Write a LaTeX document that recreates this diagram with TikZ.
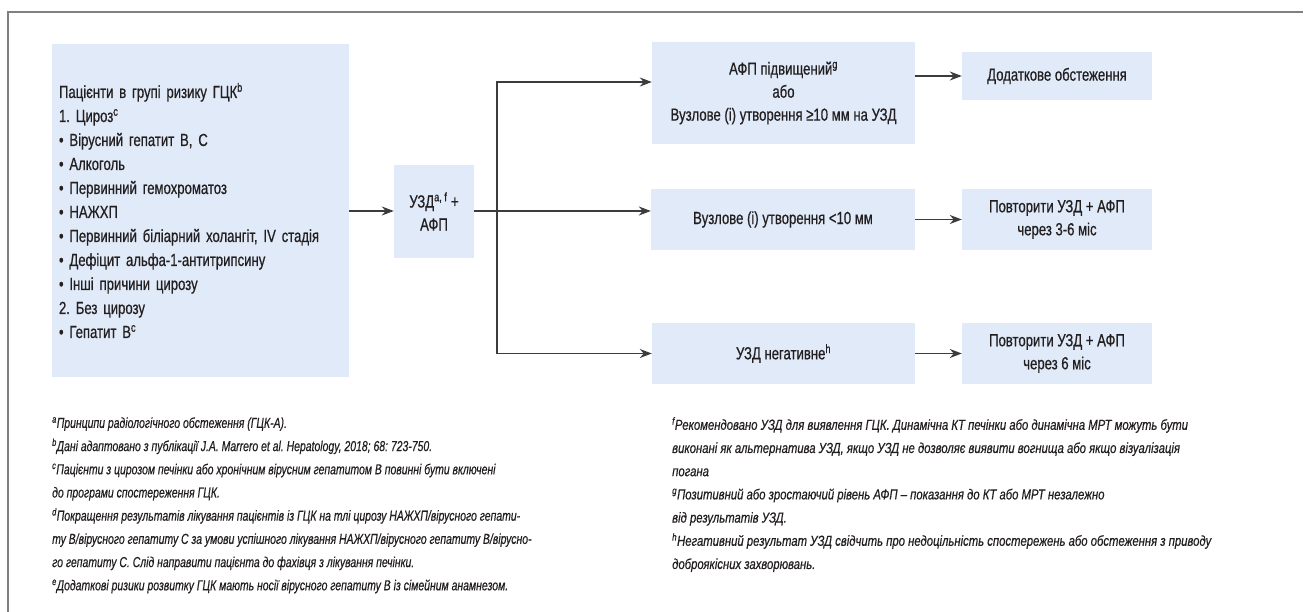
\documentclass[tikz,border=0pt]{standalone}
\usepackage{fontspec}
\setmainfont{Liberation Sans}
\newfontfamily\boxfont{Liberation Sans}[FakeStretch=0.75,FakeBold=0.6]
\newfontfamily\notefont{Liberation Sans}[FakeStretch=0.72,FakeBold=0.5]
\newfontfamily\notewidefont{Liberation Sans}[FakeStretch=0.78,FakeBold=0.5]
\usetikzlibrary{arrows.meta}
\definecolor{boxblue}{RGB}{224,234,248}
\definecolor{ink}{RGB}{35,31,32}
\definecolor{linegray}{RGB}{60,60,60}
\definecolor{framegray}{RGB}{128,128,128}
\frenchspacing

\begin{document}
\begin{tikzpicture}[x=1pt,y=-1pt,
    box/.style={fill=boxblue,inner sep=0pt,align=center,text=ink,
      font=\boxfont\fontsize{17.5}{23}\selectfont},
    note/.style={anchor=north west,inner sep=0pt,align=left,text=ink,
      font=\notefont\fontsize{14.5}{23.2}\selectfont\itshape},
    link/.style={linegray,line width=1.2pt,->},
    >={Stealth[length=12pt,width=9pt]}]
  \useasboundingbox (0,0) rectangle (1313,612);
  \draw[framegray,line width=1.5pt] (8,612) -- (8,12) -- (1303,12);
  % boxes
  \node[box,minimum width=297,minimum height=333,text width=283,align=left,
    font=\boxfont\fontsize{17.5}{24}\selectfont] (risk) at (200.5,210.5)
    {Пацієнти в групі ризику ГЦК\textsuperscript{b}\\
     1. Цироз\textsuperscript{c}\\
     • Вірусний гепатит В, С\\
     • Алкоголь\\
     • Первинний гемохроматоз\\
     • НАЖХП\\
     • Первинний біліарний холангіт, IV стадія\\
     • Дефіцит альфа-1-антитрипсину\\
     • Інші причини цирозу\\
     2. Без цирозу\\
     • Гепатит В\textsuperscript{c}};
  \node[box,minimum width=80,minimum height=93] (usd) at (434,211.5)
    {УЗД\textsuperscript{a, f} +\\АФП};
  \node[box,minimum width=263,minimum height=102] (high) at (783.5,93)
    {АФП підвищений\textsuperscript{g}\\або\\Вузлове (і) утворення ≥10 мм на УЗД};
  \node[box,minimum width=264,minimum height=61] (small) at (783,219.5)
    {Вузлове (і) утворення <10 мм};
  \node[box,minimum width=263,minimum height=61] (neg) at (783.5,353.5)
    {УЗД негативне\textsuperscript{h}};
  \node[box,minimum width=190,minimum height=48] (extra) at (1057,76)
    {Додаткове обстеження};
  \node[box,minimum width=190,minimum height=61] (rep1) at (1057,219.5)
    {Повторити УЗД + АФП\\через 3-6 міс};
  \node[box,minimum width=190,minimum height=61] (rep2) at (1057,353.5)
    {Повторити УЗД + АФП\\через 6 міс};
  % connectors
  \coordinate (split) at (497,211);
  \draw[link] (risk.east |- split) -- (usd.west |- split);
  \draw[link] (usd.east |- split) -- (split -| small.west);
  \draw[link] (split) |- ([yshift=11pt]high.west);
  \draw[link] (split) |- (neg.west);
  \draw[link] (high.east |- extra.west) -- (extra.west);
  \draw[link] (small.east |- rep1.west) -- (rep1.west);
  \draw[link] (neg.east) -- (rep2.west);
  % notes
  \node[note] (notesl) at (52,417)
    {\textsuperscript{a}Принципи радіологічного обстеження (ГЦК-А).\\
     \textsuperscript{b}Дані адаптовано з публікації J.A. Marrero et al. Hepatology, 2018; 68: 723-750.\\
     \textsuperscript{c}Пацієнти з цирозом печінки або хронічним вірусним гепатитом В повинні бути включені\\
     до програми спостереження ГЦК.\\
     \textsuperscript{d}Покращення результатів лікування пацієнтів із ГЦК на тлі цирозу НАЖХП/вірусного гепати-\\
     ту В/вірусного гепатиту С за умови успішного лікування НАЖХП/вірусного гепатиту В/вірусно-\\
     го гепатиту С. Слід направити пацієнта до фахівця з лікування печінки.\\
     \textsuperscript{e}Додаткові ризики розвитку ГЦК мають носії вірусного гепатиту В із сімейним анамнезом.};
  \node[note,font=\notewidefont\fontsize{14.5}{23.2}\selectfont\itshape] (notesr) at (672,417)
    {\textsuperscript{f}Рекомендовано УЗД для виявлення ГЦК. Динамічна КТ печінки або динамічна МРТ можуть бути\\
     виконані як альтернатива УЗД, якщо УЗД не дозволяє виявити вогнища або якщо візуалізація\\
     погана\\
     \textsuperscript{g}Позитивний або зростаючий рівень АФП – показання до КТ або МРТ незалежно\\
     від результатів УЗД.\\
     \textsuperscript{h}Негативний результат УЗД свідчить про недоцільність спостережень або обстеження з приводу\\
     доброякісних захворювань.};
\end{tikzpicture}
\end{document}
